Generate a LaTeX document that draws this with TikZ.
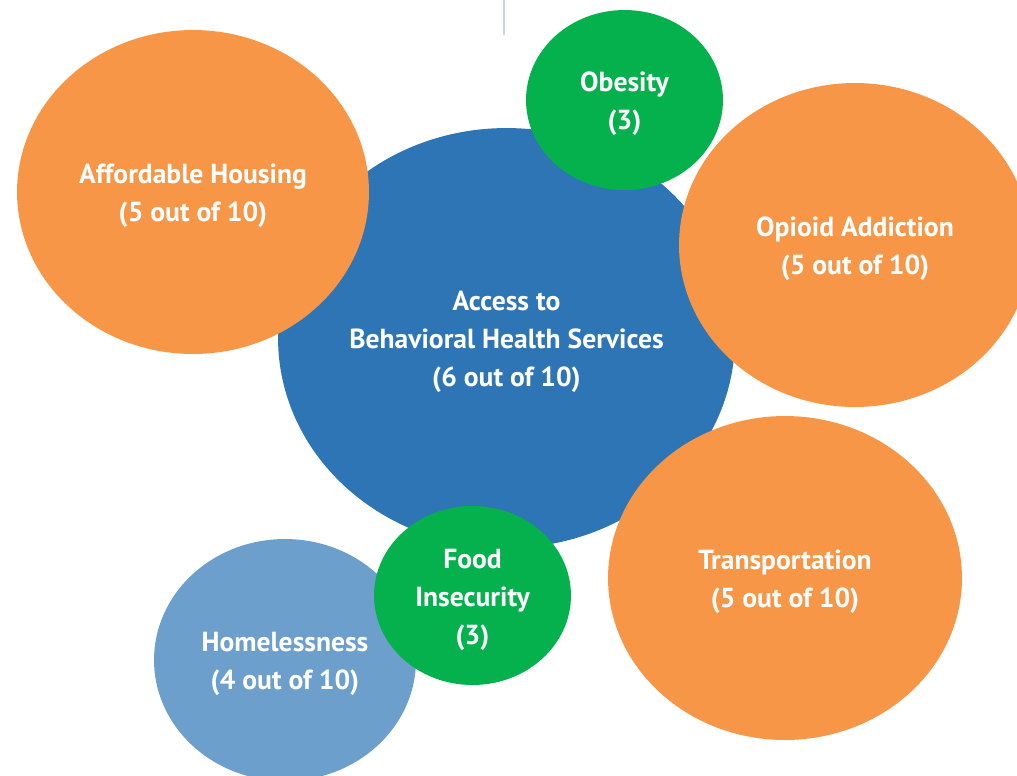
\documentclass[tikz,border=0pt]{standalone}
\usepackage{fontspec}
\setmainfont{PT Sans}
\usetikzlibrary{shapes.geometric}

\definecolor{bubbleorange}{HTML}{F79646}
\definecolor{bubbleblue}{HTML}{2E75B5}
\definecolor{bubblegreen}{HTML}{05B14C}
\definecolor{bubblelight}{HTML}{6C9FCB}
\definecolor{rulegray}{HTML}{C9D5E3}

\tikzset{
  bubble/.style={ellipse,inner sep=0pt},
  bubbletext/.style={text=white,align=center,yshift=-0.08cm,
    font=\fontsize{15.7}{21.6}\selectfont\bfseries}
}

\begin{document}
\begin{tikzpicture}[x=0.02cm,y=-0.02cm]
\useasboundingbox (0,0) rectangle (1017,775);
\clip (0,0) rectangle (1017,775);
\coordinate (ruletop) at (504,0);
\coordinate (rulebot) at (504,35);
\draw[rulegray,line width=1.2pt] (ruletop) -- (rulebot);
% central bubble first, the others lie on top of it
\node[bubble,fill=bubbleblue,minimum width=9.14cm,minimum height=8.4cm,
  label={[bubbletext]center:Access to\\Behavioral Health Services\\(6 out of 10)}] (access) at (506.5,338) {};
\node[bubble,fill=bubbleorange,minimum width=7.04cm,minimum height=6.48cm,
  label={[bubbletext]center:Affordable Housing\\(5 out of 10)}] (housing) at (193,192) {};
\node[bubble,fill=bubblegreen,minimum width=3.94cm,minimum height=3.6cm,
  label={[bubbletext]center:Obesity\\(3)}] (obesity) at (624.5,100) {};
\node[bubble,fill=bubbleorange,minimum width=7.04cm,minimum height=6.48cm,
  label={[bubbletext]center:Opioid Addiction\\(5 out of 10)}] (opioid) at (855,245) {};
\node[bubble,fill=bubbleorange,minimum width=7.08cm,minimum height=6.48cm,
  label={[bubbletext]center:Transportation\\(5 out of 10)}] (transport) at (785,578) {};
\node[bubble,fill=bubblelight,minimum width=5.24cm,minimum height=4.84cm,
  label={[bubbletext]center:Homelessness\\(4 out of 10)}] (homeless) at (285,660) {};
\node[bubble,fill=bubblegreen,minimum width=3.94cm,minimum height=3.58cm,
  label={[bubbletext]center:Food\\Insecurity\\(3)}] (food) at (472.5,595.5) {};
\end{tikzpicture}
\end{document}
